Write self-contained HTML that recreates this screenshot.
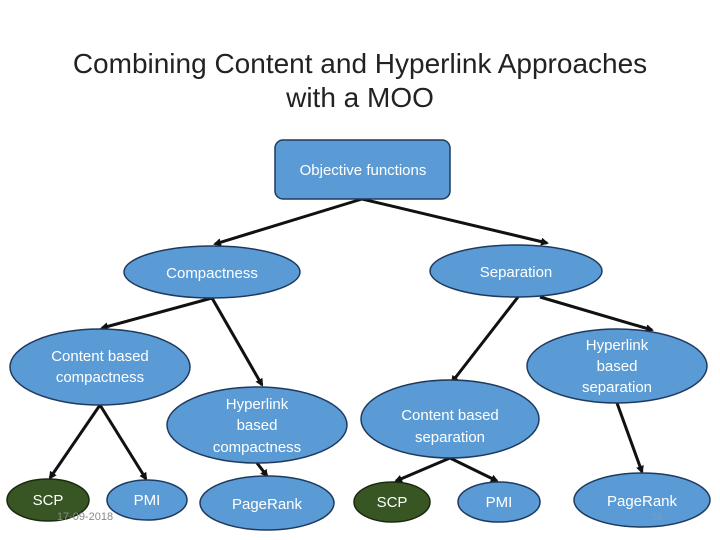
<!DOCTYPE html>
<html><head><meta charset="utf-8"><style>
body{margin:0;background:#fff;}
svg{display:block;font-family:"Liberation Sans",sans-serif;}
</style></head><body>
<svg width="720" height="540" viewBox="0 0 720 540">
<defs><marker id="a" markerWidth="8" markerHeight="8" refX="6" refY="4" orient="auto" markerUnits="userSpaceOnUse"><path d="M0,0 L8,4 L0,8 Z" fill="#111"/></marker></defs>
<text x="360" y="73" text-anchor="middle" font-size="28" fill="#222">Combining Content and Hyperlink Approaches</text>
<text x="360" y="107" text-anchor="middle" font-size="28" fill="#222">with a MOO</text>
<g stroke="#111" stroke-width="3" marker-end="url(#a)">
<line x1="362" y1="199" x2="215" y2="244"/>
<line x1="362" y1="199" x2="547" y2="243"/>
<line x1="212" y1="298" x2="102" y2="328"/>
<line x1="212" y1="298" x2="262" y2="385"/>
<line x1="518" y1="297" x2="452" y2="382"/>
<line x1="540" y1="297" x2="652" y2="330"/>
<line x1="100" y1="405" x2="50" y2="478"/>
<line x1="100" y1="405" x2="146" y2="479"/>
<line x1="257" y1="463" x2="267" y2="476"/>
<line x1="450" y1="458" x2="396" y2="481"/>
<line x1="450" y1="458" x2="497" y2="481"/>
<line x1="617" y1="403" x2="642" y2="472"/>
</g>
<g stroke="#1f3a5f" stroke-width="1.5" fill="#5B9BD5">
<rect x="275" y="140" width="175" height="59" rx="8"/>
<ellipse cx="212" cy="272" rx="88" ry="26"/>
<ellipse cx="516" cy="271" rx="86" ry="26"/>
<ellipse cx="100" cy="367" rx="90" ry="38"/>
<ellipse cx="257" cy="425" rx="90" ry="38"/>
<ellipse cx="617" cy="366" rx="90" ry="37"/>
<ellipse cx="450" cy="419" rx="89" ry="39"/>
<ellipse cx="147" cy="500" rx="40" ry="20"/>
<ellipse cx="267" cy="503" rx="67" ry="27"/>
<ellipse cx="499" cy="502" rx="41" ry="20"/>
<ellipse cx="642" cy="500" rx="68" ry="27"/>
</g>
<g stroke="#1a2a10" stroke-width="1.5" fill="#375623">
<ellipse cx="48" cy="500" rx="41" ry="21"/>
<ellipse cx="392" cy="502" rx="38" ry="20"/>
</g>
<g fill="#fff" font-size="15" text-anchor="middle">
<text x="363" y="175">Objective functions</text>
<text x="212" y="278">Compactness</text>
<text x="516" y="277">Separation</text>
<text x="100" y="361">Content based</text><text x="100" y="382">compactness</text>
<text x="257" y="409">Hyperlink</text><text x="257" y="430">based</text><text x="257" y="452">compactness</text>
<text x="617" y="350">Hyperlink</text><text x="617" y="371">based</text><text x="617" y="392">separation</text>
<text x="450" y="420">Content based</text><text x="450" y="442">separation</text>
<text x="48" y="505">SCP</text>
<text x="147" y="505">PMI</text>
<text x="267" y="509">PageRank</text>
<text x="392" y="507">SCP</text>
<text x="499" y="507">PMI</text>
<text x="642" y="506">PageRank</text>
</g>
<text x="85" y="520" text-anchor="middle" font-size="11" fill="#888">17-09-2018</text>
<text x="657" y="520" text-anchor="middle" font-size="10" fill="#7a9cc0">26</text>
</svg>
</body></html>
